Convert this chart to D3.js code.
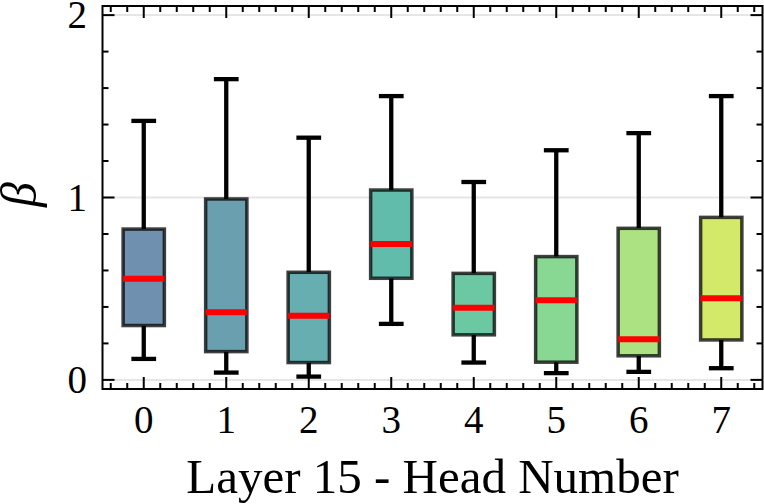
<!DOCTYPE html>
<html>
<head>
<meta charset="utf-8">
<script src="https://cdn.jsdelivr.net/npm/d3@7"></script>
<style>
  html, body { margin: 0; padding: 0; background: #fff; }
  svg { display: block; }
  text { font-family: "Liberation Serif", "Times New Roman", serif; fill: #000; }
</style>
</head>
<body>
<svg id="chart" width="764" height="504"></svg>
<script>
// ---- Data ----
const heads = [0, 1, 2, 3, 4, 5, 6, 7];
const whiskerLow  = [0.115, 0.040, 0.018, 0.307, 0.095, 0.037, 0.044, 0.064];
const q1          = [0.298, 0.155, 0.095, 0.557, 0.247, 0.097, 0.132, 0.219];
const medians     = [0.555, 0.371, 0.352, 0.745, 0.396, 0.437, 0.223, 0.448];
const q3          = [0.827, 0.992, 0.590, 1.041, 0.584, 0.676, 0.831, 0.891];
const whiskerHigh = [1.420, 1.649, 1.328, 1.556, 1.085, 1.259, 1.353, 1.556];
const boxColors   = ["#7090af", "#6a9faf", "#66aeb0", "#62bcac", "#6cc8a2", "#88d894", "#ade283", "#d3e96a"];
const yTicks = [0, 1, 2];
const xLabel = "Layer 15 - Head Number";
const yLabel = "β";

// ---- Layout ----
const svg = d3.select("#chart");
const L = 102.5, R = 762.5, T = 6, B = 389;

const x = d3.scaleLinear().domain([-0.5, 7.5]).range([L, R]);
const y = d3.scaleLinear().domain([-0.05, 2.05]).range([B, T]);

const boxW = 0.5, capW = 0.3;

// gridlines
svg.append("g").selectAll("line").data(yTicks).join("line")
  .attr("x1", L).attr("x2", R)
  .attr("y1", d => y(d)).attr("y2", d => y(d))
  .attr("stroke", "#e6e6e6").attr("stroke-width", 2);

// boxes
const g = svg.append("g");
heads.forEach((h, i) => {
  const cx = x(h);
  // whiskers
  g.append("line").attr("x1", cx).attr("x2", cx)
    .attr("y1", y(q3[i])).attr("y2", y(whiskerHigh[i]))
    .attr("stroke", "#000").attr("stroke-width", 4.3);
  g.append("line").attr("x1", cx).attr("x2", cx)
    .attr("y1", y(q1[i])).attr("y2", y(whiskerLow[i]))
    .attr("stroke", "#000").attr("stroke-width", 4.3);
  // caps
  g.append("line").attr("x1", x(h - capW / 2)).attr("x2", x(h + capW / 2))
    .attr("y1", y(whiskerHigh[i])).attr("y2", y(whiskerHigh[i]))
    .attr("stroke", "#000").attr("stroke-width", 4.3);
  g.append("line").attr("x1", x(h - capW / 2)).attr("x2", x(h + capW / 2))
    .attr("y1", y(whiskerLow[i])).attr("y2", y(whiskerLow[i]))
    .attr("stroke", "#000").attr("stroke-width", 4.3);
  // box
  g.append("rect")
    .attr("x", x(h - boxW / 2)).attr("width", x(h + boxW / 2) - x(h - boxW / 2))
    .attr("y", y(q3[i])).attr("height", y(q1[i]) - y(q3[i]))
    .attr("fill", boxColors[i])
    .attr("stroke", "#000").attr("stroke-opacity", 0.75).attr("stroke-width", 3.5);
  // median
  g.append("line").attr("x1", x(h - boxW / 2)).attr("x2", x(h + boxW / 2))
    .attr("y1", y(medians[i])).attr("y2", y(medians[i]))
    .attr("stroke", "#ff0000").attr("stroke-width", 6);
});

// ticks
const majorX = heads;
const minorX = d3.range(-0.4, 7.45, 0.2).filter(v => Math.abs(v - Math.round(v)) > 0.01);
const minorY = d3.range(0, 2.01, 0.2).filter(v => Math.abs(v - Math.round(v)) > 0.01);
const tk = svg.append("g").attr("stroke", "#000").attr("stroke-width", 2);
const majLen = 12, minLen = 6;
majorX.forEach(v => {
  tk.append("line").attr("x1", x(v)).attr("x2", x(v)).attr("y1", B).attr("y2", B - majLen);
  tk.append("line").attr("x1", x(v)).attr("x2", x(v)).attr("y1", T).attr("y2", T + majLen);
});
minorX.forEach(v => {
  tk.append("line").attr("x1", x(v)).attr("x2", x(v)).attr("y1", B).attr("y2", B - minLen);
  tk.append("line").attr("x1", x(v)).attr("x2", x(v)).attr("y1", T).attr("y2", T + minLen);
});
yTicks.forEach(v => {
  tk.append("line").attr("x1", L).attr("x2", L + majLen).attr("y1", y(v)).attr("y2", y(v));
  tk.append("line").attr("x1", R).attr("x2", R - majLen).attr("y1", y(v)).attr("y2", y(v));
});
minorY.forEach(v => {
  tk.append("line").attr("x1", L).attr("x2", L + minLen).attr("y1", y(v)).attr("y2", y(v));
  tk.append("line").attr("x1", R).attr("x2", R - minLen).attr("y1", y(v)).attr("y2", y(v));
});

// frame
svg.append("rect").attr("x", L).attr("y", T).attr("width", R - L).attr("height", B - T)
  .attr("fill", "none").attr("stroke", "#000").attr("stroke-width", 2);

// tick labels
svg.append("g").selectAll("text").data(heads).join("text")
  .attr("x", d => x(d)).attr("y", 433)
  .attr("text-anchor", "middle").attr("font-size", 39)
  .text(d => d);
svg.append("g").selectAll("text").data(yTicks).join("text")
  .attr("x", 87).attr("y", d => y(d) + 13)
  .attr("text-anchor", "end").attr("font-size", 39)
  .text(d => d);

// axis labels
svg.append("text").attr("x", (L + R) / 2).attr("y", 493)
  .attr("text-anchor", "middle").attr("font-size", 49)
  .text(xLabel);
svg.append("text")
  .attr("transform", `translate(36, ${(T + B) / 2 - 3}) rotate(-90)`)
  .attr("text-anchor", "middle").attr("font-size", 50).attr("font-style", "italic")
  .text(yLabel);
</script>
</body>
</html>
